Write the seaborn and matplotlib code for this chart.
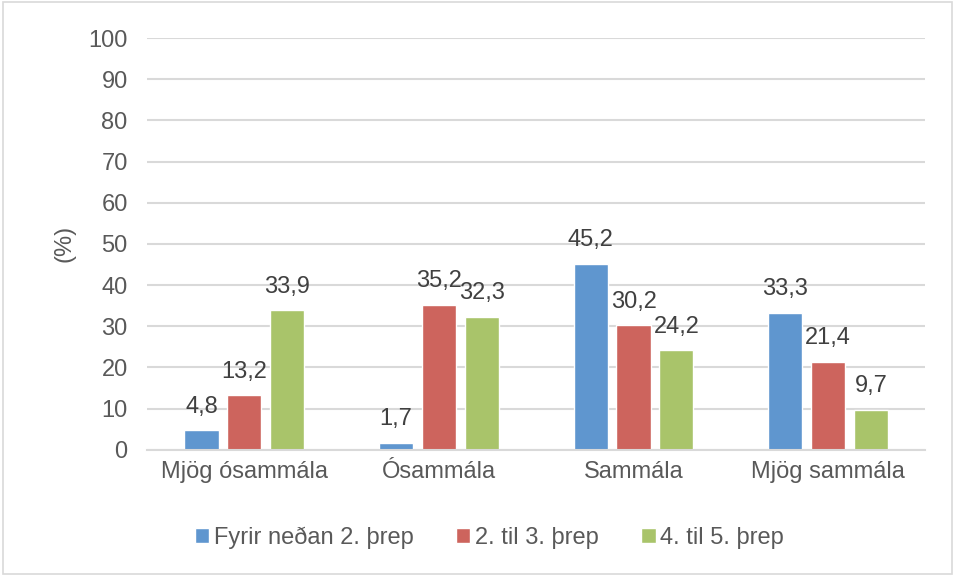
import pandas as pd
import seaborn as sns
import matplotlib.pyplot as plt

categories = ['Mjög ósammála', 'Ósammála', 'Sammála', 'Mjög sammála']
series = ['Fyrir neðan 2. þrep', '2. til 3. þrep', '4. til 5. þrep']
vals_low = [4.8, 1.7, 45.2, 33.3]
vals_mid = [13.2, 35.2, 30.2, 21.4]
vals_high = [33.9, 32.3, 24.2, 9.7]
colors = ['#5F96CF', '#CD645D', '#A9C46A']

df = pd.DataFrame({
    'cat': categories * 3,
    'grp': [series[0]] * 4 + [series[1]] * 4 + [series[2]] * 4,
    'val': vals_low + vals_mid + vals_high,
})

sns.set_style('white')
plt.rcParams['font.family'] = ['Liberation Sans', 'DejaVu Sans']

fig = plt.figure(figsize=(9.55, 5.76), dpi=100)
ax = fig.add_axes([0.154, 0.219, 0.815, 0.715])
sns.barplot(data=df, x='cat', y='val', hue='grp', palette=colors, saturation=1,
            width=0.66, gap=0.2, ax=ax, legend=True)

for cont in ax.containers:
    ax.bar_label(cont, labels=[f'{v:.1f}'.replace('.', ',') for v in cont.datavalues],
                 padding=9, fontsize=17, color='#404040')

ax.set_ylim(0, 100)
ax.set_yticks(range(0, 101, 10))
ax.grid(axis='y', color='#D9D9D9', linewidth=1.5)
ax.set_axisbelow(True)
for s in ['top', 'right', 'left']:
    ax.spines[s].set_visible(False)
ax.spines['bottom'].set_color('#D9D9D9')
ax.spines['bottom'].set_linewidth(1.5)
ax.tick_params(axis='both', length=0, labelsize=17, labelcolor='#595959')
ax.tick_params(axis='y', pad=14)
ax.tick_params(axis='x', pad=8)
ax.set_xlabel('')
ax.set_ylabel('(%)', fontsize=17, color='#595959', labelpad=9)

ax.legend(loc='upper center', bbox_to_anchor=(0.44, -0.135), ncol=3, frameon=False,
          fontsize=17, labelcolor='#595959', handlelength=0.6, handleheight=0.6,
          handletextpad=0.2, columnspacing=1.8)

fig.patches.append(plt.Rectangle((0.003, 0.003), 0.994, 0.994, transform=fig.transFigure,
                                 fill=False, edgecolor='#D9D9D9', linewidth=1.2))
fig.savefig('out.png', dpi=100)
